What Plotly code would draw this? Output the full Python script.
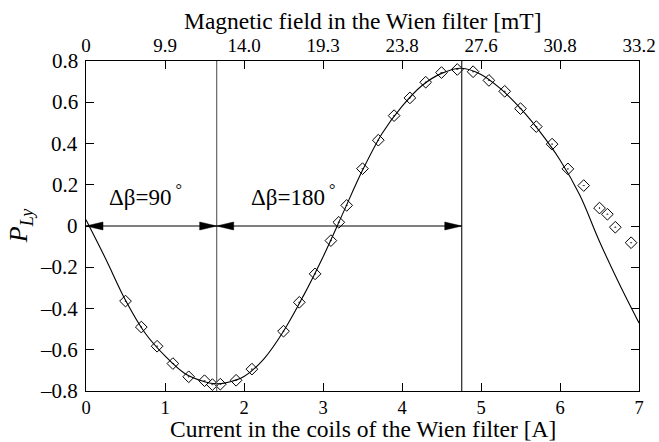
import plotly.graph_objects as go

# measured points (current in A, P_Ly)
current = [0.5, 0.7, 0.9, 1.1, 1.3, 1.5, 1.6, 1.7, 1.9, 2.1, 2.5, 2.7, 2.9,
           3.1, 3.2, 3.3, 3.5, 3.7, 3.9, 4.1, 4.3, 4.5, 4.7, 4.9, 5.1, 5.3,
           5.5, 5.7, 5.9, 6.1, 6.3, 6.5, 6.6, 6.7, 6.9]
p_ly = [-0.364, -0.49, -0.583, -0.667, -0.731, -0.750, -0.769, -0.767,
        -0.748, -0.694, -0.510, -0.370, -0.232, -0.071, 0.018, 0.10, 0.278,
        0.416, 0.535, 0.621, 0.697, 0.744, 0.759, 0.748, 0.706, 0.653, 0.569,
        0.482, 0.397, 0.277, 0.196, 0.087, 0.057, -0.006, -0.081]

# fit curve
fit_x = [0.0, 0.25, 0.5, 0.75, 1.0, 1.25, 1.5, 1.65, 1.75, 2.0, 2.25, 2.5,
         2.75, 3.0, 3.25, 3.5, 3.75, 4.0, 4.25, 4.5, 4.75, 5.0, 5.25, 5.5,
         5.75, 6.0, 6.25, 6.5, 6.75, 7.0]
fit_y = [0.03, -0.16, -0.36, -0.52, -0.63, -0.715, -0.755, -0.765, -0.762,
         -0.73, -0.645, -0.51, -0.34, -0.15, 0.06, 0.27, 0.45, 0.58, 0.68,
         0.74, 0.765, 0.735, 0.665, 0.57, 0.455, 0.32, 0.15, -0.075, -0.28,
         -0.47]

# top axis: magnetic field at integer currents
field_ticks = [0, 1, 2, 3, 4, 5, 6, 7]
field_labels = ["0", "9.9", "14.0", "19.3", "23.8", "27.6", "30.8", "33.2"]

y_ticks = [-0.8, -0.6, -0.4, -0.2, 0, 0.2, 0.4, 0.6, 0.8]
y_labels = ["\u20130.8", "\u20130.6", "\u20130.4", "\u20130.2", "0",
            "0.2", "0.4", "0.6", "0.8"]

# phase markers (current in A)
marks = [0.0, 1.654, 4.756]
mark_text = ["\u0394\u03b2=90<sup> \u00b0</sup>", "\u0394\u03b2=180<sup> \u00b0</sup>"]

font = "Liberation Serif"

fig = go.Figure()

fig.add_trace(go.Scatter(x=fit_x, y=fit_y, mode="lines", line_shape="spline",
                         line=dict(color="black", width=1.1), showlegend=False))
fig.add_trace(go.Scatter(x=current, y=p_ly, mode="markers", showlegend=False,
                         marker=dict(symbol="diamond-open-dot", size=9,
                                     color="black", line=dict(width=1))))
# dummy trace so the top axis is drawn
fig.add_trace(go.Scatter(x=[0, 7], y=[0, 0], xaxis="x2", mode="none",
                         showlegend=False, hoverinfo="skip"))

# vertical lines
for xv, col in [(marks[1], "#666666"), (marks[2], "#222222")]:
    fig.add_shape(type="line", x0=xv, x1=xv, y0=-0.8, y1=0.8,
                  line=dict(color=col, width=1.2))

# double arrows at P=0
for i in range(2):
    a, b = marks[i], marks[i + 1]
    fig.add_shape(type="line", x0=a, x1=b, y0=0, y1=0,
                  line=dict(color="black", width=1.2))
    fig.add_shape(type="path", xsizemode="pixel", ysizemode="pixel",
                  xanchor=a, yanchor=0, path="M0,0 L17,4 L17,-4 Z",
                  fillcolor="black", line=dict(color="black", width=0.5))
    fig.add_shape(type="path", xsizemode="pixel", ysizemode="pixel",
                  xanchor=b, yanchor=0, path="M0,0 L-17,4 L-17,-4 Z",
                  fillcolor="black", line=dict(color="black", width=0.5))
    fig.add_annotation(x=(a + b) / 2 - (0.07 if i == 0 else 0.58), y=0.15,
                       text=mark_text[i], showarrow=False,
                       font=dict(size=23, color="black", family=font))

# y tick labels, placed just left of the axis
for v, lab in zip(y_ticks, y_labels):
    fig.add_annotation(x=0, y=v, xref="paper", yref="y", xanchor="right",
                       yanchor="middle", xshift=-6, text=lab, showarrow=False,
                       font=dict(size=21, family=font))

# axis titles as annotations (paper coords)
fig.add_annotation(x=0.5, y=1.121, xref="paper", yref="paper",
                   xanchor="center", yanchor="middle",
                   text="Magnetic field in the Wien filter [mT]",
                   showarrow=False, font=dict(size=23.5, family=font))
fig.add_annotation(x=0.5, y=-0.116, xref="paper", yref="paper",
                   xanchor="center", yanchor="middle",
                   text="Current in the coils of the Wien filter [A]",
                   showarrow=False, font=dict(size=23.5, family=font))
fig.add_annotation(x=-0.119, y=0.5, xref="paper", yref="paper",
                   xanchor="center", yanchor="middle",
                   text="<i>P</i><sub><i>Ly</i></sub>", textangle=-90,
                   showarrow=False, font=dict(size=26, family=font))

axis_common = dict(showline=True, linecolor="black", linewidth=1.4,
                   ticks="inside", ticklen=8, tickwidth=1.2, tickcolor="black",
                   showgrid=False, zeroline=False, automargin=False)

fig.update_layout(
    width=659, height=442,
    margin=dict(l=86, r=20, t=61, b=51),
    paper_bgcolor="white", plot_bgcolor="white",
    font=dict(family=font, color="black"),
    xaxis=dict(range=[0, 7], tickvals=field_ticks,
               tickfont=dict(size=18.5, color="black", family=font),
               **axis_common),
    xaxis2=dict(range=[0, 7], overlaying="x", side="top",
                tickvals=field_ticks, ticktext=field_labels,
                tickfont=dict(size=19, color="black", family=font),
                **axis_common),
    yaxis=dict(range=[-0.8, 0.8], tickvals=y_ticks, showticklabels=False,
               mirror="ticks", **axis_common),
)

fig.write_html("out.html", post_script="document.body.style.margin='0';",
               config={"displayModeBar": False})
